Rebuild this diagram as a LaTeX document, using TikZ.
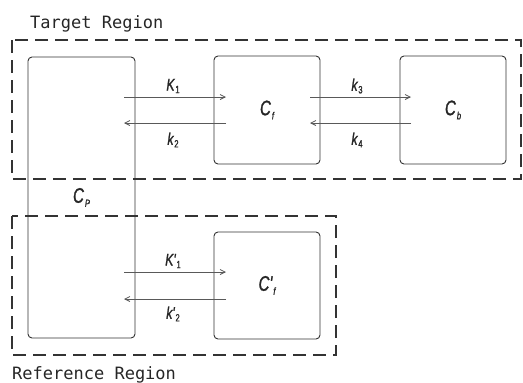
\documentclass[tikz,border=0pt]{standalone}
\usepackage{fontspec}
\setmainfont{Liberation Sans}
\newfontfamily\monof{DejaVu Sans Mono}
\newfontfamily\labf[FakeStretch=0.72,FakeBold=1.2]{Liberation Sans}
\usetikzlibrary{arrows.meta}
\newcommand\lbl[2]{{\labf\itshape #1}\kern0.8pt\raisebox{-0.15em}{\labf\fontsize{10.5}{10.5}\selectfont #2}}
\newcommand\lbli[2]{{\labf\itshape #1}\kern1pt\raisebox{-0.2em}{\labf\fontsize{10.5}{10.5}\selectfont\itshape #2}}
\begin{document}
\begin{tikzpicture}[x=1pt,y=-1pt,
  comp/.style={draw=black!80, line width=0.9pt, rounded corners=4pt, inner sep=0pt,
    font=\fontsize{21}{21}\selectfont, text=black!85},
  region/.style={draw=black!80, line width=1.4pt, dash pattern=on 13pt off 7pt},
  flow/.style={draw=black!65, line width=0.8pt, -{Straight Barb[length=5pt,width=5pt]}},
  rate/.style={inner sep=0pt, font=\fontsize{17}{17}\selectfont, text=black!85},
  title/.style={inner sep=0pt, anchor=base west, font=\monof\fontsize{17}{17}\selectfont, text=black!85}]
\useasboundingbox (0,0) rectangle (523,383);
% regions
\draw[region] (12,40) rectangle (521,179);
\draw[region] (12,216) rectangle (336,355);
\node[title] (tr) at (30,28) {Target Region};
\node[title] (rr) at (12,379) {Reference Region};
% compartments
\node[comp, minimum width=107pt, minimum height=281pt] (cp) at (81.5,197.5) {\lbli{C}{P}};
\node[comp, minimum width=106pt, minimum height=108pt] (cf) at (267,110) {\lbli{C}{f}};
\node[comp, minimum width=106pt, minimum height=108pt] (cb) at (453,110) {\lbli{C}{b}};
\node[comp, minimum width=106pt, minimum height=107pt] (cfr) at (267,285.5) {\lbli{C'}{f}};
% arrow ends
\coordinate (a1s) at (124,97);  \coordinate (a1e) at (226,97);
\coordinate (a2s) at (226,123); \coordinate (a2e) at (124,123);
\coordinate (a3s) at (310,97);  \coordinate (a3e) at (411,97);
\coordinate (a4s) at (411,123); \coordinate (a4e) at (310,123);
\coordinate (r1s) at (124,272); \coordinate (r1e) at (226,272);
\coordinate (r2s) at (226,299); \coordinate (r2e) at (124,299);
\draw[flow] (a1s) -- (a1e);
\draw[flow] (a2s) -- (a2e);
\draw[flow] (a3s) -- (a3e);
\draw[flow] (a4s) -- (a4e);
\draw[flow] (r1s) -- (r1e);
\draw[flow] (r2s) -- (r2e);
% rate labels
\node[rate] (k1) at (173,86) {\lbl{K}{1}};
\node[rate] (k2) at (173,140) {\lbl{k}{2}};
\node[rate] (k3) at (357,86) {\lbl{k}{3}};
\node[rate] (k4) at (357,140) {\lbl{k}{4}};
\node[rate] (kr1) at (173,261) {\lbl{K'}{1}};
\node[rate] (kr2) at (173,314) {\lbl{k'}{2}};
\end{tikzpicture}
\end{document}
